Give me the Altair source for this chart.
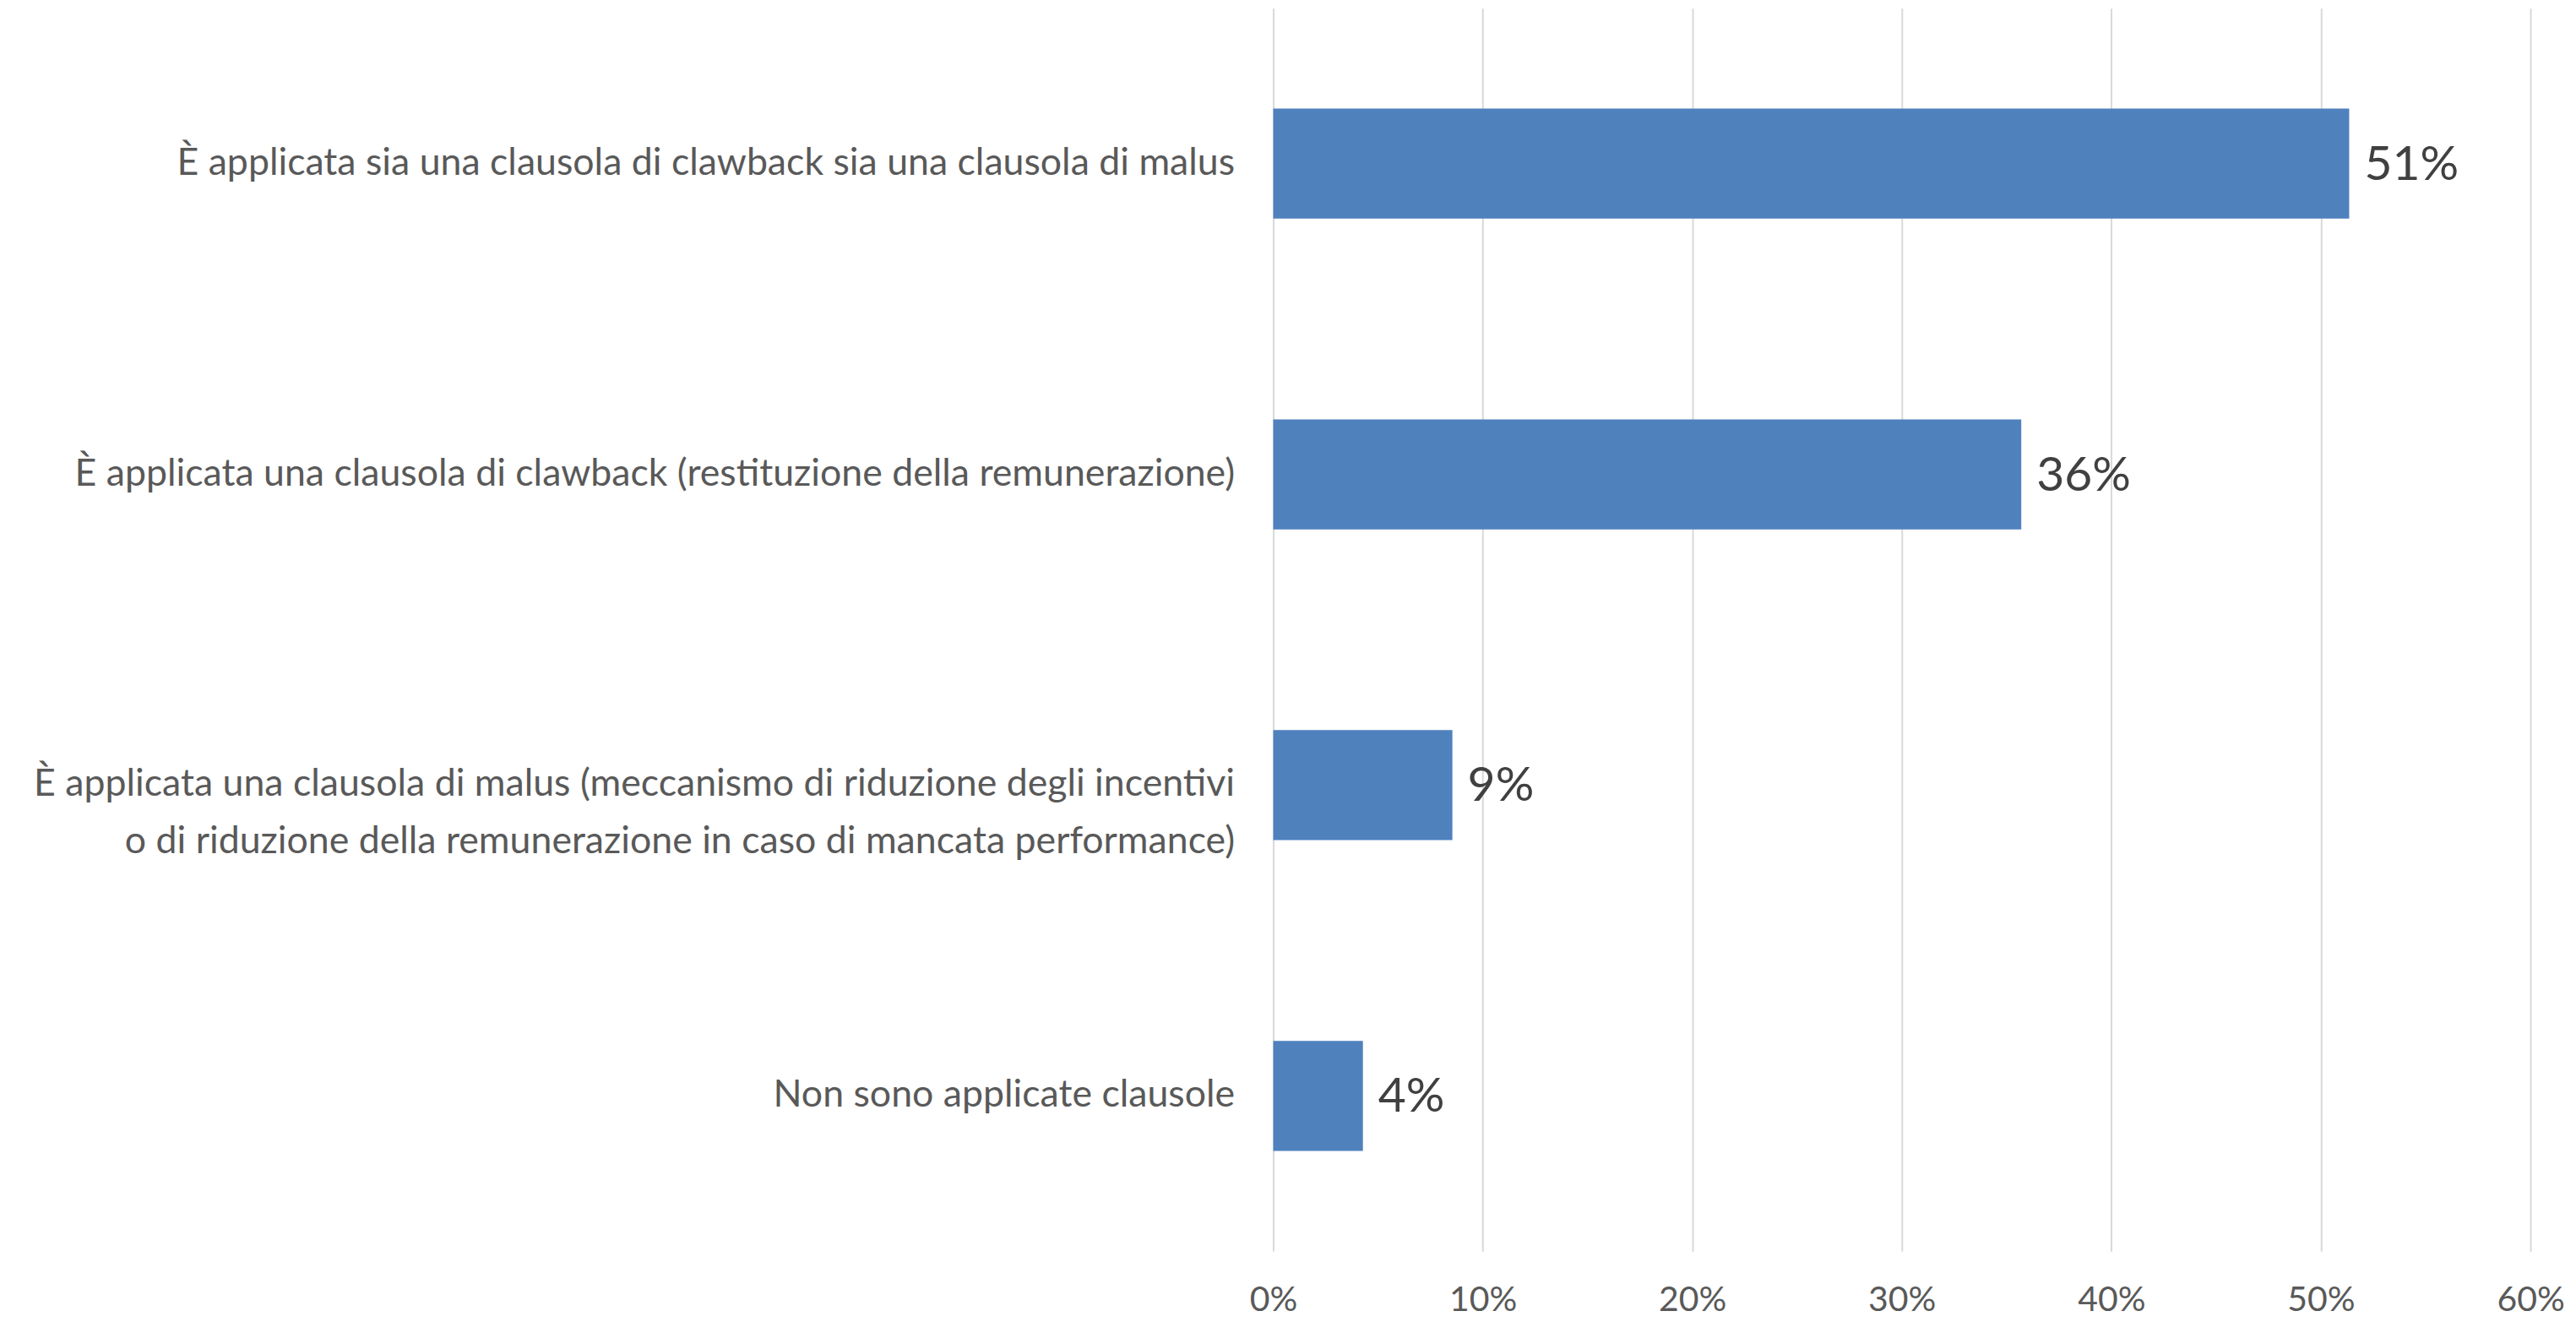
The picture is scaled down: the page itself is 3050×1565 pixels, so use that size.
import altair as alt
import pandas as pd

categories = [
    "È applicata sia una clausola di clawback sia una clausola di malus",
    "È applicata una clausola di clawback (restituzione della remunerazione)",
    "È applicata una clausola di malus (meccanismo di riduzione degli incentivi|o di riduzione della remunerazione in caso di mancata performance)",
    "Non sono applicate clausole",
]
values = [0.5135, 0.357, 0.0855, 0.0428]
value_labels = ["51%", "36%", "9%", "4%"]
x_ticks = [0, 0.1, 0.2, 0.3, 0.4, 0.5, 0.6]

df = pd.DataFrame({"cat": categories, "val": values, "lbl": value_labels})

FONT = "Lato"

y_enc = alt.Y(
    "cat:N",
    sort=categories,
    title=None,
    scale=alt.Scale(paddingInner=0.646, paddingOuter=0.323),
    axis=alt.Axis(
        domain=False,
        ticks=False,
        labelFont=FONT,
        labelFontSize=44.7,
        labelColor="#595959",
        labelPadding=46,
        labelLimit=2000,
        labelLineHeight=68,
        labelExpr="split(datum.label, '|')",
    ),
)

x_enc = alt.X(
    "val:Q",
    title=None,
    scale=alt.Scale(domain=[0, 0.6], nice=False),
    axis=alt.Axis(
        values=x_ticks,
        format=".0%",
        domain=False,
        ticks=False,
        grid=True,
        gridColor="#D9D9D9",
        gridWidth=2,
        labelFlush=False,
        labelFont=FONT,
        labelFontSize=41,
        labelColor="#595959",
        labelPadding=38,
    ),
)

bars = alt.Chart(df).mark_bar(color="#4F81BD").encode(x=x_enc, y=y_enc)

text = alt.Chart(df).mark_text(
    align="left",
    baseline="middle",
    dx=18,
    dy=2,
    font=FONT,
    fontSize=57,
    color="#404040",
).encode(x="val:Q", y=alt.Y("cat:N", sort=categories), text="lbl:N")

chart = (
    alt.layer(bars, text)
    .properties(
        width=1490,
        height=1473,
        autosize=alt.AutoSizeParams(type="none"),
        padding={"left": 1501, "top": 1, "right": 46, "bottom": 80},
        background="white",
    )
    .configure_view(stroke=None)
)

chart.save("out.html", embed_options={"renderer": "svg", "actions": False})
